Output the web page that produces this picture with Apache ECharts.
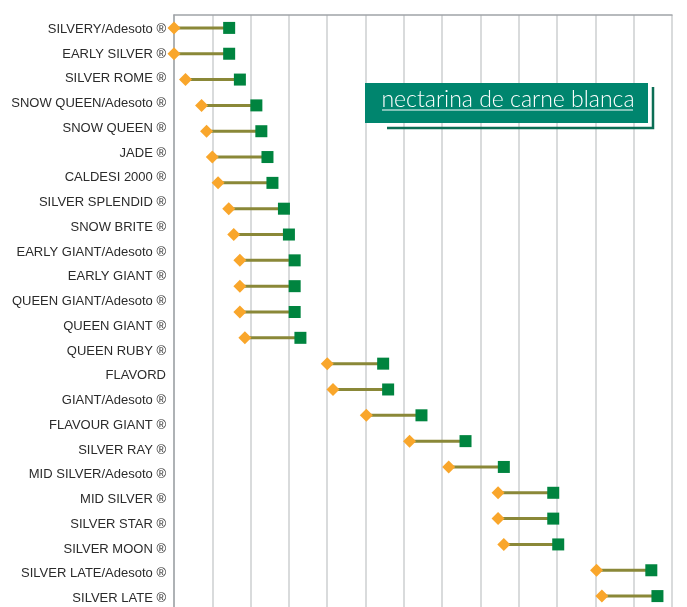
<!DOCTYPE html>
<html>
<head>
<meta charset="utf-8">
<script src="https://cdn.jsdelivr.net/npm/echarts@6/dist/echarts.min.js"></script>
<style>
  html, body { margin: 0; padding: 0; background: #fff; }
  #chart { width: 687px; height: 607px; }
</style>
</head>
<body>
<div id="chart"></div>
<script>
// variedades (la que va en dos líneas lleva \n)
const categories = [
  'SILVERY/Adesoto ®', 'EARLY SILVER ®', 'SILVER ROME ®', 'SNOW QUEEN/Adesoto ®',
  'SNOW QUEEN ®', 'JADE ®', 'CALDESI 2000 ®', 'SILVER SPLENDID ®', 'SNOW BRITE ®',
  'EARLY GIANT/Adesoto ®', 'EARLY GIANT ®', 'QUEEN GIANT/Adesoto ®', 'QUEEN GIANT ®',
  'QUEEN RUBY ®', 'FLAVORD\nGIANT/Adesoto ®', 'FLAVOUR GIANT ®', 'SILVER RAY ®',
  'MID SILVER/Adesoto ®', 'MID SILVER ®', 'SILVER STAR ®', 'SILVER MOON ®',
  'SILVER LATE/Adesoto ®', 'SILVER LATE ®'
]
// inicio de recolección (rombo naranja)
const startValues = [
  0, 0, 0.30, 0.72, 0.85, 1.0, 1.15, 1.43, 1.56, 1.72, 1.72, 1.72, 1.85,
  4.0, 4.15, 5.02, 6.15, 7.17, 8.46, 8.46, 8.61, 11.03, 11.17
]
// fin de recolección (cuadrado verde)
const endValues = [
  1.44, 1.44, 1.72, 2.15, 2.28, 2.44, 2.57, 2.87, 3.0, 3.15, 3.15, 3.15, 3.30,
  5.46, 5.59, 6.46, 7.61, 8.61, 9.90, 9.90, 10.03, 12.46, 12.62
]
// etiquetas tal como aparecen, una por línea
const labelLines = categories.flatMap(c => c.split('\n'))

const chart = echarts.init(document.getElementById('chart'))

const gridColor = '#cdcfd1'

const option = {
  animation: false,
  grid: [
    { left: 174, top: 15, width: 498, height: 594, outerBoundsMode: 'none' },
    // sólo para las etiquetas
    { left: 174, top: 17, width: 498, height: 594, outerBoundsMode: 'none' }
  ],
  xAxis: [
    {
      type: 'value',
      gridIndex: 0,
      position: 'top',
      min: 0,
      max: 13,
      interval: 1,
      axisLine: { show: true, lineStyle: { color: '#a0a4a8', width: 1.5 } },
      axisTick: { show: false },
      axisLabel: { show: false },
      splitLine: { show: true, lineStyle: { color: gridColor, width: 1.5 } }
    },
    {
      type: 'value',
      gridIndex: 1,
      show: false,
      min: 0,
      max: 13
    }
  ],
  yAxis: [
    {
      type: 'category',
      gridIndex: 0,
      inverse: true,
      data: categories,
      axisLine: { show: true, lineStyle: { color: '#a0a4a8', width: 1.5 } },
      axisTick: { show: false },
      axisLabel: { show: false }
    },
    {
      type: 'category',
      gridIndex: 1,
      inverse: true,
      data: labelLines,
      axisLine: { show: false },
      axisTick: { show: false },
      axisLabel: {
        margin: 8,
        color: '#2b2b2b',
        fontSize: 13,
        fontFamily: '"Liberation Sans", Arial, sans-serif'
      }
    }
  ],
  series: [
    {
      type: 'bar',
      stack: 'r',
      barWidth: 3,
      itemStyle: { color: 'transparent' },
      silent: true,
      data: startValues
    },
    {
      type: 'bar',
      stack: 'r',
      barWidth: 3,
      itemStyle: { color: '#8a8838' },
      data: endValues.map((v, i) => +(v - startValues[i]).toFixed(2))
    },
    {
      type: 'scatter',
      symbol: 'diamond',
      symbolSize: 13,
      itemStyle: { color: '#f9a62b', opacity: 1 },
      z: 3,
      data: startValues.map((v, i) => [v, i])
    },
    {
      type: 'scatter',
      symbol: 'rect',
      symbolSize: 12,
      itemStyle: { color: '#00843f', opacity: 1 },
      z: 3,
      data: endValues.map((v, i) => [v, i])
    }
  ],
  graphic: [
    // sombra del cuadro del título
    {
      type: 'polyline',
      shape: { points: [[387, 128], [653, 128], [653, 87]] },
      style: { stroke: '#0b6e55', lineWidth: 2.5, fill: null },
      z: 10
    },
    {
      type: 'rect',
      shape: { x: 365, y: 83, width: 283, height: 40 },
      style: { fill: '#00856e' },
      z: 11
    },
    {
      type: 'text',
      x: 508,
      y: 100,
      style: {
        text: 'nectarina de carne blanca',
        fill: '#fff',
        fontSize: 23,
        fontWeight: 300,
        fontFamily: 'Lato, "Open Sans", sans-serif',
        align: 'center',
        verticalAlign: 'middle'
      },
      z: 12
    },
    {
      type: 'line',
      shape: { x1: 382, y1: 110, x2: 633, y2: 110 },
      style: { stroke: '#fff', lineWidth: 1.2 },
      z: 12
    }
  ]
}

chart.setOption(option)
</script>
</body>
</html>
